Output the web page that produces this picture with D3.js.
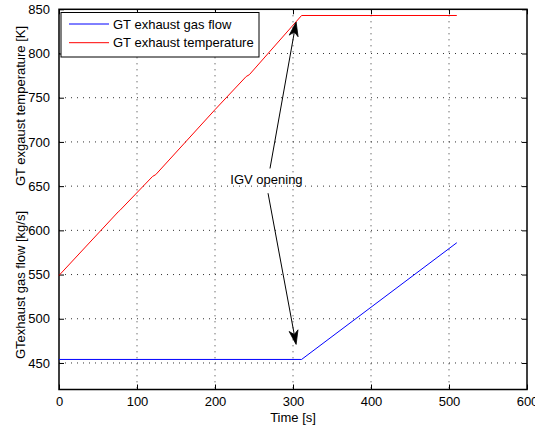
<!DOCTYPE html>
<html>
<head>
<meta charset="utf-8">
<script src="https://cdn.jsdelivr.net/npm/d3@7"></script>
<style>
  html, body { margin: 0; padding: 0; background: #fff; }
  svg { display: block; }
  text { font-family: "Liberation Sans", Arial, sans-serif; }
</style>
</head>
<body>
<svg id="chart" width="535" height="427"></svg>
<script>
// ---- data ----
const flowTime = [0, 311, 510];
const flowVals = [454, 454, 586];
const tempTime = [0, 76, 78, 120, 124, 200, 240, 244, 311, 510];
const tempVals = [549, 621, 622.5, 661, 663, 736.5, 774, 776, 843, 843];
const xTicks = [0, 100, 200, 300, 400, 500, 600];
const yTicks = [450, 500, 550, 600, 650, 700, 750, 800, 850];
const legendLabels = ["GT exhaust gas flow", "GT exhaust temperature"];
const seriesColors = ["#0000ff", "#ff0000"];
const annotText = "IGV opening";
const annotTextPos = [266, 657];
const arrowStarts = [[270.5, 670], [268, 642]];
const arrowTips = [[304, 835.5], [304, 471]];

// ---- layout ----
const svg = d3.select("#chart");
const L = 59, R = 527, T = 9.3, B = 389.5;
const x = d3.scaleLinear().domain([0, 600]).range([L, R]);
const y = d3.scaleLinear().domain([420, 850]).range([B, T]);

// grid
const grid = svg.append("g");
grid.selectAll("line.gx").data(xTicks.slice(1, -1)).enter().append("line")
  .attr("x1", d => x(d)).attr("x2", d => x(d)).attr("y1", T).attr("y2", B)
  .attr("stroke", "#333").attr("stroke-width", 1).attr("stroke-dasharray", "1,5");
grid.selectAll("line.gy").data(yTicks.filter(d => d < 850)).enter().append("line")
  .attr("y1", d => y(d)).attr("y2", d => y(d)).attr("x1", L).attr("x2", R)
  .attr("stroke", "#333").attr("stroke-width", 1).attr("stroke-dasharray", "1,5");

// axes
const fmt = d3.format("d");
const axB = svg.append("g").attr("transform", `translate(0,${B})`)
  .call(d3.axisBottom(x).tickValues(xTicks).tickFormat(fmt).tickSizeInner(-5).tickSizeOuter(0).tickPadding(7));
const axT = svg.append("g").attr("transform", `translate(0,${T})`)
  .call(d3.axisTop(x).tickValues(xTicks).tickFormat("").tickSizeInner(-5).tickSizeOuter(0));
const axL = svg.append("g").attr("transform", `translate(${L},0)`)
  .call(d3.axisLeft(y).tickValues(yTicks).tickFormat(fmt).tickSizeInner(-5).tickSizeOuter(0).tickPadding(9));
const axR = svg.append("g").attr("transform", `translate(${R},0)`)
  .call(d3.axisRight(y).tickValues(yTicks).tickFormat("").tickSizeInner(-5).tickSizeOuter(0));
[axB, axT, axL, axR].forEach(a => {
  a.select(".domain").remove();
  a.selectAll(".tick line").attr("stroke", "#000").attr("stroke-width", 1);
  a.selectAll("text").attr("font-size", 13).attr("fill", "#000")
    .attr("font-family", "'Liberation Sans', Arial, sans-serif");
});
// frame
svg.append("rect").attr("x", L).attr("y", T).attr("width", R - L).attr("height", B - T)
  .attr("fill", "none").attr("stroke", "#000").attr("stroke-width", 1.5);

// series
const line = d3.line().x(d => x(d[0])).y(d => y(d[1]));
svg.append("path").datum(flowTime.map((t, i) => [t, flowVals[i]]))
  .attr("d", line).attr("fill", "none").attr("stroke", seriesColors[0]).attr("stroke-width", 1);
svg.append("path").datum(tempTime.map((t, i) => [t, tempVals[i]]))
  .attr("d", line).attr("fill", "none").attr("stroke", seriesColors[1]).attr("stroke-width", 1);

// annotation
svg.append("text").attr("x", x(annotTextPos[0])).attr("y", y(annotTextPos[1]))
  .attr("text-anchor", "middle").attr("dominant-baseline", "central")
  .attr("font-size", 13).text(annotText);
arrowStarts.forEach((s, i) => {
  const tip = arrowTips[i];
  const x0 = x(s[0]), y0 = y(s[1]), x1 = x(tip[0]), y1 = y(tip[1]);
  const ang = Math.atan2(y1 - y0, x1 - x0);
  const len = 14, hw = 4.5, notch = 10;
  const ux = Math.cos(ang), uy = Math.sin(ang), px = -uy, py = ux;
  svg.append("line").attr("x1", x0).attr("y1", y0)
    .attr("x2", x1 - ux * notch).attr("y2", y1 - uy * notch)
    .attr("stroke", "#000").attr("stroke-width", 1);
  const pts = [
    [x1, y1],
    [x1 - ux * len + px * hw, y1 - uy * len + py * hw],
    [x1 - ux * notch, y1 - uy * notch],
    [x1 - ux * len - px * hw, y1 - uy * len - py * hw]
  ];
  svg.append("path").attr("d", "M" + pts.map(p => p.join(",")).join("L") + "Z")
    .attr("fill", "#000").attr("stroke", "#000").attr("stroke-width", 0.8);
});

// legend
const lg = svg.append("g");
lg.append("rect").attr("x", 61).attr("y", 12.5).attr("width", 198).attr("height", 44.5)
  .attr("fill", "#fff").attr("stroke", "#000").attr("stroke-width", 1);
legendLabels.forEach((lab, i) => {
  const yy = 24 + i * 18.7;
  lg.append("line").attr("x1", 69).attr("x2", 109).attr("y1", yy).attr("y2", yy)
    .attr("stroke", seriesColors[i]).attr("stroke-width", 1);
  lg.append("text").attr("x", 113).attr("y", yy).attr("dominant-baseline", "central")
    .attr("font-size", 13).text(lab);
});

// axis labels
svg.append("text").attr("x", x(300)).attr("y", 422).attr("text-anchor", "middle")
  .attr("font-size", 13).text("Time [s]");
svg.append("text").attr("transform", "translate(25,285) rotate(-90)")
  .attr("text-anchor", "middle").attr("font-size", 13).text("GTexhaust gas flow [kg/s]");
svg.append("text").attr("transform", "translate(25,106) rotate(-90)")
  .attr("text-anchor", "middle").attr("font-size", 13).text("GT exgaust temperature [K]");
</script>
</body>
</html>
